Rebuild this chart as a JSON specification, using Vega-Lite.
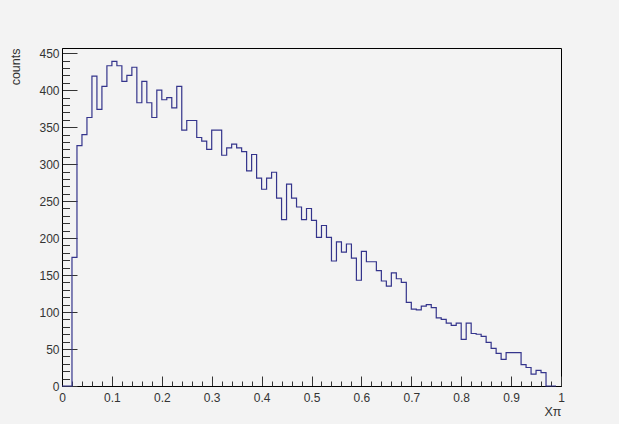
{
  "$schema": "https://vega.github.io/schema/vega-lite/v6.json",
  "width": 499,
  "height": 338,
  "autosize": {"type": "none"},
  "padding": {"left": 62, "top": 48, "right": 58, "bottom": 38},
  "background": "#f3f3f3",
  "config": {
    "view": {"stroke": "#000000", "strokeWidth": 1, "fill": "#f3f3f3"},
    "axis": {
      "labelFont": "Liberation Sans",
      "titleFont": "Liberation Sans",
      "labelFontSize": 12,
      "titleFontSize": 12.5,
      "titleFontWeight": "normal",
      "labelColor": "#333333",
      "titleColor": "#333333",
      "domainColor": "#000000",
      "tickColor": "#333333",
      "grid": false
    }
  },
  "data": {
    "values": [
      {"x": 0.00, "counts": 0}, {"x": 0.01, "counts": 0}, {"x": 0.02, "counts": 174}, {"x": 0.03, "counts": 325},
      {"x": 0.04, "counts": 340}, {"x": 0.05, "counts": 363}, {"x": 0.06, "counts": 419}, {"x": 0.07, "counts": 374},
      {"x": 0.08, "counts": 405}, {"x": 0.09, "counts": 433}, {"x": 0.10, "counts": 439}, {"x": 0.11, "counts": 433},
      {"x": 0.12, "counts": 412}, {"x": 0.13, "counts": 420}, {"x": 0.14, "counts": 431}, {"x": 0.15, "counts": 383},
      {"x": 0.16, "counts": 412}, {"x": 0.17, "counts": 383}, {"x": 0.18, "counts": 363}, {"x": 0.19, "counts": 400},
      {"x": 0.20, "counts": 387}, {"x": 0.21, "counts": 390}, {"x": 0.22, "counts": 376}, {"x": 0.23, "counts": 405},
      {"x": 0.24, "counts": 346}, {"x": 0.25, "counts": 359}, {"x": 0.26, "counts": 359}, {"x": 0.27, "counts": 336},
      {"x": 0.28, "counts": 331}, {"x": 0.29, "counts": 320}, {"x": 0.30, "counts": 346}, {"x": 0.31, "counts": 346},
      {"x": 0.32, "counts": 312}, {"x": 0.33, "counts": 322}, {"x": 0.34, "counts": 327}, {"x": 0.35, "counts": 322},
      {"x": 0.36, "counts": 317}, {"x": 0.37, "counts": 291}, {"x": 0.38, "counts": 313}, {"x": 0.39, "counts": 281},
      {"x": 0.40, "counts": 266}, {"x": 0.41, "counts": 281}, {"x": 0.42, "counts": 289}, {"x": 0.43, "counts": 254},
      {"x": 0.44, "counts": 225}, {"x": 0.45, "counts": 273}, {"x": 0.46, "counts": 254}, {"x": 0.47, "counts": 242},
      {"x": 0.48, "counts": 225}, {"x": 0.49, "counts": 240}, {"x": 0.50, "counts": 224}, {"x": 0.51, "counts": 201},
      {"x": 0.52, "counts": 217}, {"x": 0.53, "counts": 201}, {"x": 0.54, "counts": 169}, {"x": 0.55, "counts": 195},
      {"x": 0.56, "counts": 181}, {"x": 0.57, "counts": 192}, {"x": 0.58, "counts": 173}, {"x": 0.59, "counts": 143},
      {"x": 0.60, "counts": 182}, {"x": 0.61, "counts": 168}, {"x": 0.62, "counts": 168}, {"x": 0.63, "counts": 156},
      {"x": 0.64, "counts": 142}, {"x": 0.65, "counts": 135}, {"x": 0.66, "counts": 153}, {"x": 0.67, "counts": 145},
      {"x": 0.68, "counts": 140}, {"x": 0.69, "counts": 113}, {"x": 0.70, "counts": 104}, {"x": 0.71, "counts": 103},
      {"x": 0.72, "counts": 108}, {"x": 0.73, "counts": 110}, {"x": 0.74, "counts": 106}, {"x": 0.75, "counts": 92},
      {"x": 0.76, "counts": 90}, {"x": 0.77, "counts": 85}, {"x": 0.78, "counts": 82}, {"x": 0.79, "counts": 85},
      {"x": 0.80, "counts": 63}, {"x": 0.81, "counts": 85}, {"x": 0.82, "counts": 71}, {"x": 0.83, "counts": 70},
      {"x": 0.84, "counts": 67}, {"x": 0.85, "counts": 59}, {"x": 0.86, "counts": 51}, {"x": 0.87, "counts": 44},
      {"x": 0.88, "counts": 36}, {"x": 0.89, "counts": 45}, {"x": 0.90, "counts": 45}, {"x": 0.91, "counts": 45},
      {"x": 0.92, "counts": 29}, {"x": 0.93, "counts": 25}, {"x": 0.94, "counts": 16}, {"x": 0.95, "counts": 21},
      {"x": 0.96, "counts": 18}, {"x": 0.97, "counts": 0}, {"x": 0.98, "counts": 0}, {"x": 0.99, "counts": 0}
    ]
  },
  "layer": [
    {
      "mark": {"type": "line", "interpolate": "step-after", "color": "#34348c", "strokeWidth": 1.2},
      "encoding": {
        "x": {
          "field": "x", "type": "quantitative",
          "scale": {"domain": [0, 1], "nice": false, "zero": false},
          "axis": {
            "orient": "bottom",
            "title": "Xπ",
            "titleAnchor": "end",
            "titlePadding": 2,
            "values": [0, 0.1, 0.2, 0.3, 0.4, 0.5, 0.6, 0.7, 0.8, 0.9, 1],
            "labelExpr": "datum.value == 0 ? '0' : datum.value == 1 ? '1' : format(datum.value, '.1f')",
            "tickSize": -10,
            "labelPadding": 16,
            "labelFlush": false,
            "labelOverlap": false
          }
        },
        "y": {
          "field": "counts", "type": "quantitative",
          "scale": {"domain": [0, 457], "nice": false},
          "axis": {
            "orient": "left",
            "title": "counts",
            "titleAnchor": "end",
            "titlePadding": 16,
            "values": [0, 50, 100, 150, 200, 250, 300, 350, 400, 450],
            "tickSize": -15,
            "labelPadding": 18,
            "labelFlush": false,
            "labelOverlap": false
          }
        }
      }
    },
    {
      "mark": {"type": "line", "opacity": 0},
      "encoding": {
        "x": {
          "field": "x", "type": "quantitative",
          "scale": {"domain": [0, 1], "nice": false, "zero": false},
          "axis": {
            "orient": "bottom",
            "title": null,
            "labels": false,
            "domain": false,
            "values": [0.02, 0.04, 0.06, 0.08, 0.12, 0.14, 0.16, 0.18, 0.22, 0.24, 0.26, 0.28, 0.32, 0.34, 0.36, 0.38, 0.42, 0.44, 0.46, 0.48, 0.52, 0.54, 0.56, 0.58, 0.62, 0.64, 0.66, 0.68, 0.72, 0.74, 0.76, 0.78, 0.82, 0.84, 0.86, 0.88, 0.92, 0.94, 0.96, 0.98],
            "tickSize": -5
          }
        },
        "y": {
          "field": "counts", "type": "quantitative",
          "scale": {"domain": [0, 457], "nice": false},
          "axis": {
            "orient": "left",
            "title": null,
            "labels": false,
            "domain": false,
            "values": [10, 20, 30, 40, 60, 70, 80, 90, 110, 120, 130, 140, 160, 170, 180, 190, 210, 220, 230, 240, 260, 270, 280, 290, 310, 320, 330, 340, 360, 370, 380, 390, 410, 420, 430, 440],
            "tickSize": -7.5
          }
        }
      }
    }
  ],
  "resolve": {"axis": {"x": "independent", "y": "independent"}}
}
